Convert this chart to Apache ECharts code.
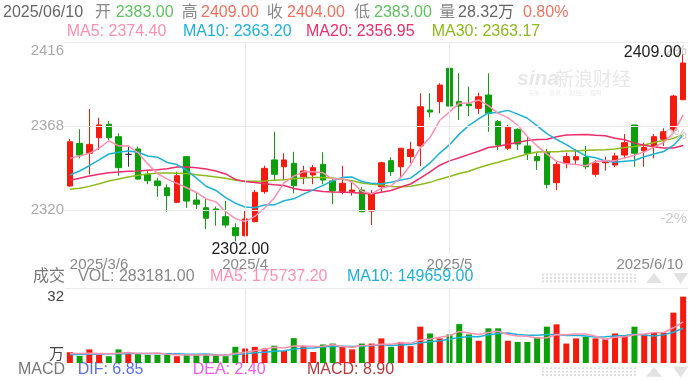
<!DOCTYPE html>
<html><head><meta charset="utf-8">
<script src="https://cdn.jsdelivr.net/npm/echarts@6/dist/echarts.min.js"></script>
<style>html,body{margin:0;padding:0;background:#fff}#c{width:700px;height:381px}</style>
</head><body><div id="c"></div>
<script>
// ---------- data ----------
const categories = [
'2025/3/6','2025/3/7','2025/3/10','2025/3/11','2025/3/12','2025/3/13','2025/3/14','2025/3/17','2025/3/18','2025/3/19',
'2025/3/20','2025/3/21','2025/3/24','2025/3/25','2025/3/26','2025/3/27','2025/3/28','2025/3/31',
'2025/4/1','2025/4/2','2025/4/3','2025/4/7','2025/4/8','2025/4/9','2025/4/10','2025/4/11','2025/4/14','2025/4/15',
'2025/4/16','2025/4/17','2025/4/18','2025/4/21','2025/4/22','2025/4/23','2025/4/24','2025/4/25','2025/4/28','2025/4/29','2025/4/30',
'2025/5/6','2025/5/7','2025/5/8','2025/5/9','2025/5/12','2025/5/13','2025/5/14','2025/5/15','2025/5/16','2025/5/19',
'2025/5/20','2025/5/21','2025/5/22','2025/5/23','2025/5/26','2025/5/27','2025/5/28','2025/5/29','2025/5/30',
'2025/6/3','2025/6/4','2025/6/5','2025/6/6','2025/6/9','2025/6/10'];
const opens = [2333.7,2358.1,2352.4,2361.3,2369.0,2361.9,2351.8,2354.9,2340.4,2336.6,
2332.7,2324.4,2350.5,2325.7,2321.3,2320.6,2316.2,2309.9,2305.3,2313.3,
2330.5,2348.6,2344.7,2346.7,2339.0,2340.0,2346.1,2336.6,2330.5,2330.5,
2331.4,2319.4,2333.3,2348.2,2344.7,2350.5,2356.6,2377.1,2381.9,2401.0,
2381.9,2380.6,2378.1,2385.7,2370.5,2355.3,2366.1,2356.6,2350.5,2353.1,
2335.6,2346.7,2348.6,2350.1,2340.4,2347.0,2345.7,2351.4,2368.6,2353.9,
2356.2,2360.4,2365.7,2383.0];
const closes = [2359.0,2351.4,2357.5,2368.6,2361.3,2344.2,2351.8,2337.7,2336.7,2333.9,
2328.2,2339.6,2325.1,2323.3,2315.3,2320.0,2311.4,2305.3,2314.9,2330.1,
2343.8,2340.4,2348.6,2333.9,2342.3,2344.2,2337.1,2330.9,2335.3,2331.4,
2319.0,2329.5,2347.0,2341.9,2355.3,2354.7,2379.0,2376.0,2391.4,2379.4,
2379.4,2379.6,2384.7,2375.3,2357.1,2367.3,2357.7,2352.4,2348.2,2334.6,
2346.1,2350.5,2350.5,2344.7,2346.7,2348.2,2350.9,2358.5,2352.4,2355.8,
2361.9,2364.7,2385.1,2404.0];
const lows = [2333.3,2349.5,2340.4,2354.3,2360.0,2339.6,2344.7,2337.1,2334.7,2327.6,
2319.0,2324.0,2321.3,2320.6,2309.1,2311.0,2309.9,2302.0,2305.0,2313.0,
2329.3,2336.6,2337.1,2329.5,2334.7,2334.7,2334.7,2323.3,2329.0,2328.2,
2319.0,2311.4,2330.1,2339.4,2339.0,2346.7,2345.1,2373.0,2375.3,2365.7,
2371.4,2373.7,2374.9,2364.7,2354.3,2354.3,2354.3,2348.6,2342.9,2332.4,
2331.4,2343.8,2346.3,2343.3,2339.0,2342.5,2344.4,2349.5,2344.7,2344.7,
2349.5,2356.6,2364.2,2383.0];
const highs = [2360.6,2366.1,2377.7,2372.7,2370.9,2363.8,2356.2,2356.2,2342.3,2338.5,
2334.7,2341.9,2350.5,2330.1,2327.0,2321.9,2325.1,2312.4,2320.0,2331.4,
2345.3,2364.7,2352.4,2353.3,2345.3,2345.7,2353.0,2338.1,2345.3,2336.2,
2333.3,2331.4,2347.6,2350.1,2355.3,2359.0,2386.7,2386.7,2392.4,2401.0,
2398.1,2390.5,2387.0,2398.1,2371.4,2368.6,2366.7,2361.9,2352.7,2355.0,
2347.6,2352.7,2354.7,2356.6,2348.6,2350.5,2352.7,2363.4,2368.6,2358.5,
2363.4,2366.7,2385.7,2409.0];
// volume in 万
const volumes = [4.6,3.0,5.8,3.5,2.9,5.8,4.3,4.0,3.5,3.5,
3.5,2.9,3.5,3.5,3.5,3.5,2.9,6.9,6.2,6.9,
6.2,7.4,5.1,10.6,7.2,4.7,7.9,8.3,7.0,5.8,
8.3,8.3,10.5,6.9,9.0,7.2,15.5,12.6,10.5,12.2,
16.6,12.2,9.5,14.8,14.8,9.5,9.0,9.0,10.9,15.5,
16.5,8.3,10.5,11.2,10.5,10.1,12.6,11.5,15.5,12.3,
12.9,12.9,21.5,28.32];
// moving-average values before a full window exists
const ma5Lead = [2349.5,2350.9,2352.4,2355.3];
const ma10Lead = [2340.0,2342.3,2345.3,2348.6,2352.0,2353.0,2353.7,2353.0,2350.9];
const ma20Lead = [2337.0,2338.1,2339.4,2340.4,2341.3,2341.7,2342.1,2342.3,2342.7,2343.0,
2343.6,2344.6,2344.6,2344.2,2343.4,2342.3,2340.6,2337.5,2336.3];
const ma30Lead = [2331.8,2332.4,2333.5,2335.0,2336.6,2337.7,2338.9,2339.8,2340.6,2341.1,
2341.1,2341.0,2340.8,2340.2,2339.6,2338.9,2338.1,2337.0,2336.4,2336.4,
2336.6,2337.0,2337.3,2337.9,2338.3,2338.6,2338.6,2338.3,2337.6];
const vma5Lead = [4.1,4.1,4.2,4.1];
const vma10Lead = [3.5,3.6,3.7,3.8,3.9,4.0,4.0,4.1,4.1];
// tick labels
const xTickIndex = [0,18,39,63];
const xTickText = ['2025/3/6','2025/4','2025/5','2025/6/10'];
const monthLineIndex = [18,39];
const yTickValues = [2320,2368,2416];
const yTickText = ['2320','2368','2416'];
const pctText = ['-2%','0%','2%'];
const volTickValues = [0,32];
const volTickText = ['万','32'];

// ---------- helpers ----------
function movingAvg(values, n, lead){
  return values.map((v,i)=>{
    if(i < n-1) return lead[i];
    let s=0; for(let k=i-n+1;k<=i;k++) s+=values[k];
    return +(s/n).toFixed(3);
  });
}
const FF = '"Liberation Sans", Arial, "Noto Sans CJK SC", sans-serif';
const UP='#f31b0e', DOWN='#0ba00b';
const PINK='#ff8fb1', CYAN='#1cb2d8', MAG='#ee2d6b', OLIVE='#8cbb1a';
const G='#5fc35f', R='#f4705e';

const ohlc = opens.map((o,i)=>[o, closes[i], lows[i], highs[i]]);
const ma5 = movingAvg(closes,5,ma5Lead), ma10 = movingAvg(closes,10,ma10Lead);
const ma20 = movingAvg(closes,20,ma20Lead), ma30 = movingAvg(closes,30,ma30Lead);
const vma5 = movingAvg(volumes,5,vma5Lead), vma10 = movingAvg(volumes,10,vma10Lead);

function segs(list, y, size){
  return list.map(([t,x,c])=>({type:'text', x:x, y:y, silent:true,
    style:{text:t, fill:c, fontSize:size||16, fontFamily:FF, verticalAlign:'middle', align:'left'}}));
}
const graphics = [].concat(
  segs([['2025/06/10',3,'#666'],['开',95,'#888'],['2383.00',115.7,G],['高',181.7,'#888'],['2409.00',201,R],
        ['收',266.7,'#888'],['2404.00',287,R],['低',354,'#888'],['2383.00',374,G],['量',439.3,'#888'],
        ['28.32万',458,'#666'],['0.80%',523,R]], 13),
  segs([['MA5: 2374.40',66.7,PINK],['MA10: 2363.20',183,CYAN],['MA20: 2356.95',306,MAG],['MA30: 2363.17',431.7,OLIVE]], 32),
  segs([['成交',33,'#777'],['VOL: 283181.00',78,'#888'],['MA5: 175737.20',210,PINK],['MA10: 149659.00',347,CYAN]], 277),
  segs([['MACD',18,'#777'],['DIF: 6.85',77.7,'#5b6cf7'],['DEA: 2.40',192.7,'#ee5bee'],['MACD: 8.90',307,'#b23b3b']], 370),
  [
    {type:'text', x:517, y:79, silent:true, style:{text:'sina', fill:'#e8e8e8', font:'italic bold 21px '+FF, verticalAlign:'middle'}},
    {type:'text', x:555, y:79, silent:true, style:{text:'新浪财经', fill:'#e8e8e8', font:'19px "Noto Sans CJK SC", sans-serif', verticalAlign:'middle'}},
    {type:'text', x:528, y:93, silent:true, style:{text:'头条 · 资讯 · 财经 · 理财', fill:'#ececec', font:'6px "Noto Sans CJK SC", sans-serif', verticalAlign:'middle'}}
  ]
);
[278, 371.7].forEach(cy=>{
  [-3.4,0,3.4].forEach(d=>graphics.push({type:'line', silent:true,
    shape:{x1:542,y1:cy+d,x2:638,y2:cy+d}, style:{stroke:'#dedede', lineWidth:2, lineDash:[2,2]}}));
  graphics.push({type:'polygon', silent:true, shape:{points:[[646,cy+5],[654,cy-5],[662,cy+5]]}, style:{fill:'#e2e2e2'}});
  graphics.push({type:'polygon', silent:true, shape:{points:[[673,cy-5],[688,cy-5],[680.5,cy+6]]}, style:{fill:'#e2e2e2'}});
});

const mainLines = [];
yTickValues.forEach((v,k)=>{
  mainLines.push({yAxis:v, label:{show:true, position:'start', distance:1,
    formatter: v===2416 ? '\n'+yTickText[k] : yTickText[k],
    color:'#aaa', fontSize:15, lineHeight:17, fontFamily:FF}});
  mainLines.push({yAxis:v, label:{show:true, position:'insideEndBottom', distance:1, formatter:pctText[k],
    color:'#ccc', fontSize:15, fontFamily:FF}});
});
monthLineIndex.forEach(i=>mainLines.push({xAxis:categories[i], label:{show:false}, lineStyle:{color:'#e8e8e8'}}));

const volLines = [];
volTickValues.forEach((v,k)=>{
  volLines.push({yAxis:v, lineStyle: v===0 ? {color:'rgba(255,255,255,0)'} : {color:'#ececec'},
    label:{show:true, position:'start', distance:1,
    formatter: v===32 ? '\n'+volTickText[k] : volTickText[k]+'\n',
    color:'#444', fontSize:15, lineHeight:17, fontFamily:FF}});
});
monthLineIndex.forEach(i=>volLines.push({xAxis:categories[i], label:{show:false}, lineStyle:{color:'#e8e8e8'}}));

function maLine(name, data, color, xi){
  return {name, type:'line', data, xAxisIndex:xi, yAxisIndex:xi, showSymbol:false, symbol:'none',
    smooth:false, z:3, silent:true, lineStyle:{color, width:1.5}, itemStyle:{color}};
}

const chart = echarts.init(document.getElementById('c'), null, {renderer:'canvas'});
chart.setOption({
  animation:false,
  backgroundColor:'#fff',
  textStyle:{fontFamily:FF},
  graphic: graphics,
  grid:[
    {left:65, right:12, top:42, height:212, outerBoundsMode:'none'},
    {left:65, right:12, top:288, height:75, outerBoundsMode:'none'}
  ],
  xAxis:[
    {type:'category', data:categories, gridIndex:0, boundaryGap:true,
     axisLine:{show:false}, axisTick:{show:false}, splitLine:{show:false},
     axisLabel:{show:true, interval:(i)=>xTickIndex.indexOf(i)>=0,
       formatter:(v,i)=>{const k=xTickIndex.indexOf(i); return k>=0?xTickText[k]:'';},
       color:'#888', fontSize:15, fontFamily:FF, margin:3, alignMinLabel:'left', alignMaxLabel:'right',
       showMinLabel:true, showMaxLabel:true}},
    {type:'category', data:categories, gridIndex:1, boundaryGap:true,
     axisLine:{show:false}, axisTick:{show:false}, splitLine:{show:false}, axisLabel:{show:false}}
  ],
  yAxis:[
    {type:'value', gridIndex:0, min:2416-212*48/84, max:2416, show:true,
     axisLine:{show:false}, axisTick:{show:false}, axisLabel:{show:false}, splitLine:{show:false}},
    {type:'value', gridIndex:1, min:0, max:32, show:true,
     axisLine:{show:false}, axisTick:{show:false}, axisLabel:{show:false}, splitLine:{show:false}}
  ],
  series:[
    {type:'line', data:[], xAxisIndex:0, yAxisIndex:0, z:1, silent:true,
     markLine:{silent:true, symbol:['none','none'], animation:false,
       lineStyle:{color:'#ececec', width:1, type:'solid'}, label:{show:false}, data:mainLines}},
    {type:'candlestick', data:ohlc, xAxisIndex:0, yAxisIndex:0, barWidth:6, z:2,
     itemStyle:{color:UP, color0:DOWN, borderColor:UP, borderColor0:DOWN, borderColorDoji:'#333', borderWidth:1},
     markPoint:{symbol:'circle', symbolSize:1, silent:true, animation:false, itemStyle:{color:'rgba(0,0,0,0)'},
       data:[
         {type:'max', valueDim:'highest', label:{show:true, position:'left', distance:1, offset:[0,-2],
           formatter:p=>Number(p.value).toFixed(2), color:'#222', fontSize:16, fontFamily:FF}},
         {type:'min', valueDim:'lowest', label:{show:true, position:'bottom', distance:0, offset:[5,0],
           formatter:p=>Number(p.value).toFixed(2), color:'#222', fontSize:16, fontFamily:FF}}
       ]}},
    maLine('MA30', ma30, OLIVE, 0),
    maLine('MA20', ma20, MAG, 0),
    maLine('MA10', ma10, CYAN, 0),
    maLine('MA5', ma5, PINK, 0),
    {type:'line', data:[], xAxisIndex:1, yAxisIndex:1, z:1, silent:true,
     markLine:{silent:true, symbol:['none','none'], animation:false,
       lineStyle:{color:'#ececec', width:1, type:'solid'}, label:{show:false}, data:volLines}},
    {type:'bar', data:volumes, xAxisIndex:1, yAxisIndex:1, barWidth:6, z:2, silent:true,
     itemStyle:{color:p=> closes[p.dataIndex] >= opens[p.dataIndex] ? UP : DOWN}},
    maLine('VMA10', vma10, CYAN, 1),
    maLine('VMA5', vma5, PINK, 1)
  ]
});
</script></body></html>
